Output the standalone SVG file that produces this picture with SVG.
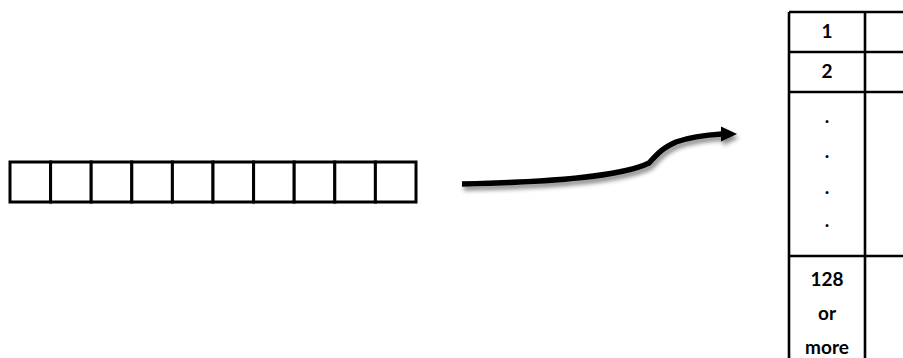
<svg xmlns="http://www.w3.org/2000/svg" width="903" height="358" viewBox="0 0 903 358">
<style>
.cell{fill:#fff;stroke:#000;stroke-width:3}
.tl{stroke:#000;stroke-width:2.6;fill:none}
.t{font-family:Lato,"Open Sans","Liberation Sans",sans-serif;font-weight:bold;font-size:19px;fill:#000;text-anchor:middle}
</style>
<defs>
<filter id="sh" x="-10%" y="-50%" width="120%" height="200%">
<feDropShadow dx="2" dy="4" stdDeviation="2" flood-color="#000" flood-opacity="0.45"/>
</filter>
</defs>
<rect width="903" height="358" fill="#fff"/>
<g id="array">
<rect class="cell" x="10" y="162" width="40.6" height="40"/>
<rect class="cell" x="50.6" y="162" width="40.6" height="40"/>
<rect class="cell" x="91.2" y="162" width="40.6" height="40"/>
<rect class="cell" x="131.8" y="162" width="40.6" height="40"/>
<rect class="cell" x="172.4" y="162" width="40.6" height="40"/>
<rect class="cell" x="213" y="162" width="40.6" height="40"/>
<rect class="cell" x="253.6" y="162" width="40.6" height="40"/>
<rect class="cell" x="294.2" y="162" width="40.6" height="40"/>
<rect class="cell" x="334.8" y="162" width="40.6" height="40"/>
<rect class="cell" x="375.4" y="162" width="40.6" height="40"/>
</g>
<g id="connectors">
<g filter="url(#sh)">
<path d="M462,184 C560,182 622,176 649,163 C659,152 663,148 676,142 C690,137 705,135 722,134" fill="none" stroke="#000" stroke-width="5.5"/>
<polygon points="721,126.5 737,134 721,141.5" fill="#000"/>
</g>
</g>
<g id="table">
<path class="tl" d="M789,12 V358 M865,12 V358 M789,12 H903 M789,52 H903 M789,92 H903 M789,256 H903"/>
<text class="t" x="827" y="38">1</text>
<text class="t" x="827" y="78">2</text>
<text class="t" x="827" y="123">.</text>
<text class="t" x="827" y="158">.</text>
<text class="t" x="827" y="194">.</text>
<text class="t" x="827" y="227">.</text>
<text class="t" x="827" y="286">128</text>
<text class="t" x="827" y="320">or</text>
<text class="t" x="827" y="354">more</text>
</g>
</svg>
